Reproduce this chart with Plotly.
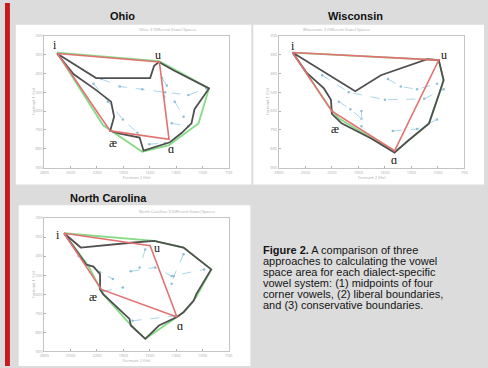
import plotly.graph_objects as go

W, H = 488, 368

# Formant tick values (Hz)
F2_TICKS = [2800, 2500, 2200, 1900, 1600, 1300, 1000, 700]
F1_TICKS = [200, 300, 400, 500, 600, 700, 800, 900]

PANEL_TITLES = ["Ohio", "Wisconsin", "North Carolina"]
PLOT_TITLES = ["Ohio: 3 Different Vowel Spaces",
               "Wisconsin: 3 Different Vowel Spaces",
               "North Carolina: 3 Different Vowel Spaces"]
CORNER_VOWELS = ["i", "u", "\u0251", "\u00e6"]

# ---- Ohio -------------------------------------------------------------
oh_mid_f2 = [2650, 1490, 1380, 2050]
oh_mid_f1 = [295, 340, 750, 705]
oh_lib_f2 = [2655, 1495, 1315, 925, 1045, 1380, 1685, 2130]
oh_lib_f1 = [290, 335, 380, 480, 665, 780, 815, 675]
oh_con_f2 = [2655, 2210, 1595, 1550, 1495, 1325, 925, 1090, 1125, 1235,
             1370, 1670, 1715, 1940, 2050, 2005, 2040, 2220, 2465]
oh_con_f1 = [295, 425, 425, 360, 340, 385, 480, 590, 665, 715,
             765, 810, 740, 720, 705, 630, 550, 485, 405]
oh_tracks = [
    ([2150, 1940, 1685, 1425, 1160, 955], [430, 470, 485, 500, 515, 480]),
    ([1460, 1405, 1435], [425, 465, 525]),
    ([2240, 2075, 1905, 1740], [455, 550, 645, 715]),
    ([1350, 1160], [665, 680]),
    ([1315, 1215], [550, 630]),
    ([1605, 1425], [775, 770]),
]

# ---- Wisconsin --------------------------------------------------------
wi_mid_f2 = [2645, 990, 1490, 2200]
wi_mid_f1 = [290, 330, 810, 600]
wi_lib_f2 = [2645, 1120, 990, 935, 1100, 1380, 1490, 2120, 2235]
wi_lib_f1 = [290, 325, 330, 440, 665, 775, 815, 640, 575]
wi_con_f2 = [2645, 1935, 1645, 1120, 990, 935, 980, 1100, 1345, 1490,
             1755, 2090, 2200, 2210, 2290, 2490]
wi_con_f1 = [290, 495, 410, 325, 330, 435, 500, 665, 760, 820,
             745, 665, 615, 540, 480, 395]
wi_tracks = [
    ([2310, 2010, 1600, 1155, 935], [410, 500, 540, 535, 485]),
    ([1565, 1420, 1235, 1010], [430, 470, 485, 455]),
    ([2120, 1990, 1865], [550, 590, 640]),
    ([1865, 1865], [600, 680]),
    ([1510, 1235, 1010], [705, 695, 645]),
]

# ---- North Carolina ---------------------------------------------------
nc_mid_f2 = [2575, 1595, 1290, 2150]
nc_mid_f1 = [280, 345, 720, 575]
nc_lib_f2 = [2575, 1550, 1215, 900, 1070, 1215, 1290, 1650, 1830, 2130, 2295]
nc_lib_f1 = [280, 320, 355, 470, 615, 695, 720, 835, 755, 600, 455]
nc_con_f2 = [2575, 2385, 1815, 1550, 1215, 900, 1070, 1100, 1215, 1290,
             1495, 1650, 1815, 1830, 2130, 2165, 2165, 2240, 2320]
nc_con_f1 = [280, 355, 330, 320, 355, 470, 600, 635, 695, 720,
             765, 835, 765, 730, 600, 575, 495, 455, 445]
nc_tracks = [
    ([2410, 2165, 2020], [400, 485, 520]),
    ([1650, 1715], [365, 460]),
    ([1815, 1540, 1350, 980], [480, 460, 505, 470]),
    ([1215, 1325, 1350], [390, 505, 545]),
    ([1795, 1315], [740, 715]),
    ([2130, 1905], [585, 565]),
]

dialects = [
    (oh_mid_f2, oh_mid_f1, oh_lib_f2, oh_lib_f1, oh_con_f2, oh_con_f1, oh_tracks),
    (wi_mid_f2, wi_mid_f1, wi_lib_f2, wi_lib_f1, wi_con_f2, wi_con_f1, wi_tracks),
    (nc_mid_f2, nc_mid_f1, nc_lib_f2, nc_lib_f1, nc_con_f2, nc_con_f1, nc_tracks),
]

# pixel boxes of each vowel plot: (left, top, right, bottom)
axes_px = [(40, 33, 228, 167), (279, 33, 468, 167), (40, 218, 228, 353)]
# white panels behind each plot
panels_px = [(11, 22, 251, 184), (253, 22, 488, 184), (14, 205, 250, 368)]
title_px = [(120, 13), (357, 13), (105, 198)]
# label offsets (x, y) in pixels for i, u, a, ae
label_shift = [
    [(-2, 8), (-1, 7), (2, -10), (3, -12)],
    [(0, 7), (5, 5), (-1, -9), (3, -18)],
    [(-6, -2), (7, -2), (3, -9), (-8, -8)],
]

def px(x):
    return x / W

def py(y):
    return 1 - y / H

def closed(a):
    return list(a) + [a[0]]

GREEN = "#86dc86"
RED = "#e27272"
GRAY = "#505050"
BLUE = "#a9d6e8"

fig = go.Figure()
layout = dict(
    width=W, height=H, margin=dict(l=0, r=0, t=0, b=0),
    paper_bgcolor="#dcdcdc", plot_bgcolor="white", showlegend=False,
)
shapes = [
    dict(type="rect", xref="paper", yref="paper", x0=0, x1=px(5), y0=0, y1=1,
         fillcolor="#c61a1e", line_width=0, layer="below"),
]
annotations = []

for k, (mf2, mf1, lf2, lf1, cf2, cf1, tracks) in enumerate(dialects):
    xa = "x" if k == 0 else f"x{k + 1}"
    ya = "y" if k == 0 else f"y{k + 1}"
    L, T, R, B = axes_px[k]
    pl, pt, pr, pb = panels_px[k]
    shapes.append(dict(type="rect", xref="paper", yref="paper",
                       x0=px(pl), x1=px(pr), y0=py(pb), y1=py(pt),
                       fillcolor="white", line_width=0, layer="below"))

    for tf2, tf1 in tracks:
        fig.add_trace(go.Scatter(x=tf2, y=tf1, xaxis=xa, yaxis=ya,
                                 mode="lines+markers",
                                 line=dict(color=BLUE, width=1, dash="dash"),
                                 marker=dict(size=2.5, color="#8fbfd6")))
    fig.add_trace(go.Scatter(x=closed(lf2), y=closed(lf1), xaxis=xa, yaxis=ya,
                             mode="lines", line=dict(color=GREEN, width=1.8)))
    fig.add_trace(go.Scatter(x=closed(cf2), y=closed(cf1), xaxis=xa, yaxis=ya,
                             mode="lines", line=dict(color=GRAY, width=1.8)))
    fig.add_trace(go.Scatter(x=closed(mf2), y=closed(mf1), xaxis=xa, yaxis=ya,
                             mode="lines", line=dict(color=RED, width=1.6)))

    axis_common = dict(showgrid=False, zeroline=False, showline=True, mirror=True,
                       linecolor="#c4c4c4", linewidth=1, ticks="inside",
                       ticklen=2, tickcolor="#b0b0b0",
                       tickfont=dict(size=4, color="#aaaaaa"))
    layout["xaxis" if k == 0 else f"xaxis{k + 1}"] = dict(
        axis_common, domain=[px(L), px(R)], range=[2800, 700],
        tickvals=F2_TICKS, ticktext=[str(v) for v in F2_TICKS],
        anchor=ya, title=dict(text="Formant 2 (Hz)", standoff=0,
                              font=dict(size=4, color="#aaaaaa")))
    layout["yaxis" if k == 0 else f"yaxis{k + 1}"] = dict(
        axis_common, domain=[py(B), py(T)], range=[900, 200],
        tickvals=F1_TICKS, ticktext=[str(v) for v in F1_TICKS],
        anchor=xa, title=dict(text="Formant 1 (Hz)", standoff=0,
                              font=dict(size=4, color="#aaaaaa")))

    # tiny plot title
    annotations.append(dict(xref="paper", yref="paper", x=px((L + R) / 2), y=py(T - 2),
                            text=PLOT_TITLES[k], showarrow=False, yanchor="bottom",
                            font=dict(size=4, color="#aaaaaa")))
    # corner vowel labels
    for j, lab in enumerate(CORNER_VOWELS):
        dx, dy = label_shift[k][j]
        annotations.append(dict(xref=xa, yref=ya, x=mf2[j], y=mf1[j], text=lab,
                                showarrow=False, xshift=dx, yshift=dy,
                                font=dict(family="Liberation Serif, DejaVu Serif",
                                          size=12, color="#111111")))
    # panel heading
    tx, ty = title_px[k]
    annotations.append(dict(xref="paper", yref="paper", x=px(tx), y=py(ty),
                            text=f"<b>{PANEL_TITLES[k]}</b>", showarrow=False,
                            xanchor="center", yanchor="middle",
                            font=dict(family="Liberation Sans, Arial", size=11,
                                      color="#111111")))

caption = [
    "<b>Figure 2.</b> A comparison of three",
    "approaches to calculating the vowel",
    "space area for each dialect-specific",
    "vowel system: (1) midpoints of four",
    "corner vowels, (2) liberal boundaries,",
    "and (3) conservative boundaries.",
]
for n, line in enumerate(caption):
    annotations.append(dict(xref="paper", yref="paper", x=px(261), y=py(250 + 11.2 * n),
                            text=line, showarrow=False, xanchor="left", yanchor="middle",
                            font=dict(family="Liberation Sans, Arial", size=11,
                                      color="#151515")))

layout["shapes"] = shapes
layout["annotations"] = annotations
fig.update_layout(**layout)
fig.write_html("out.html")
